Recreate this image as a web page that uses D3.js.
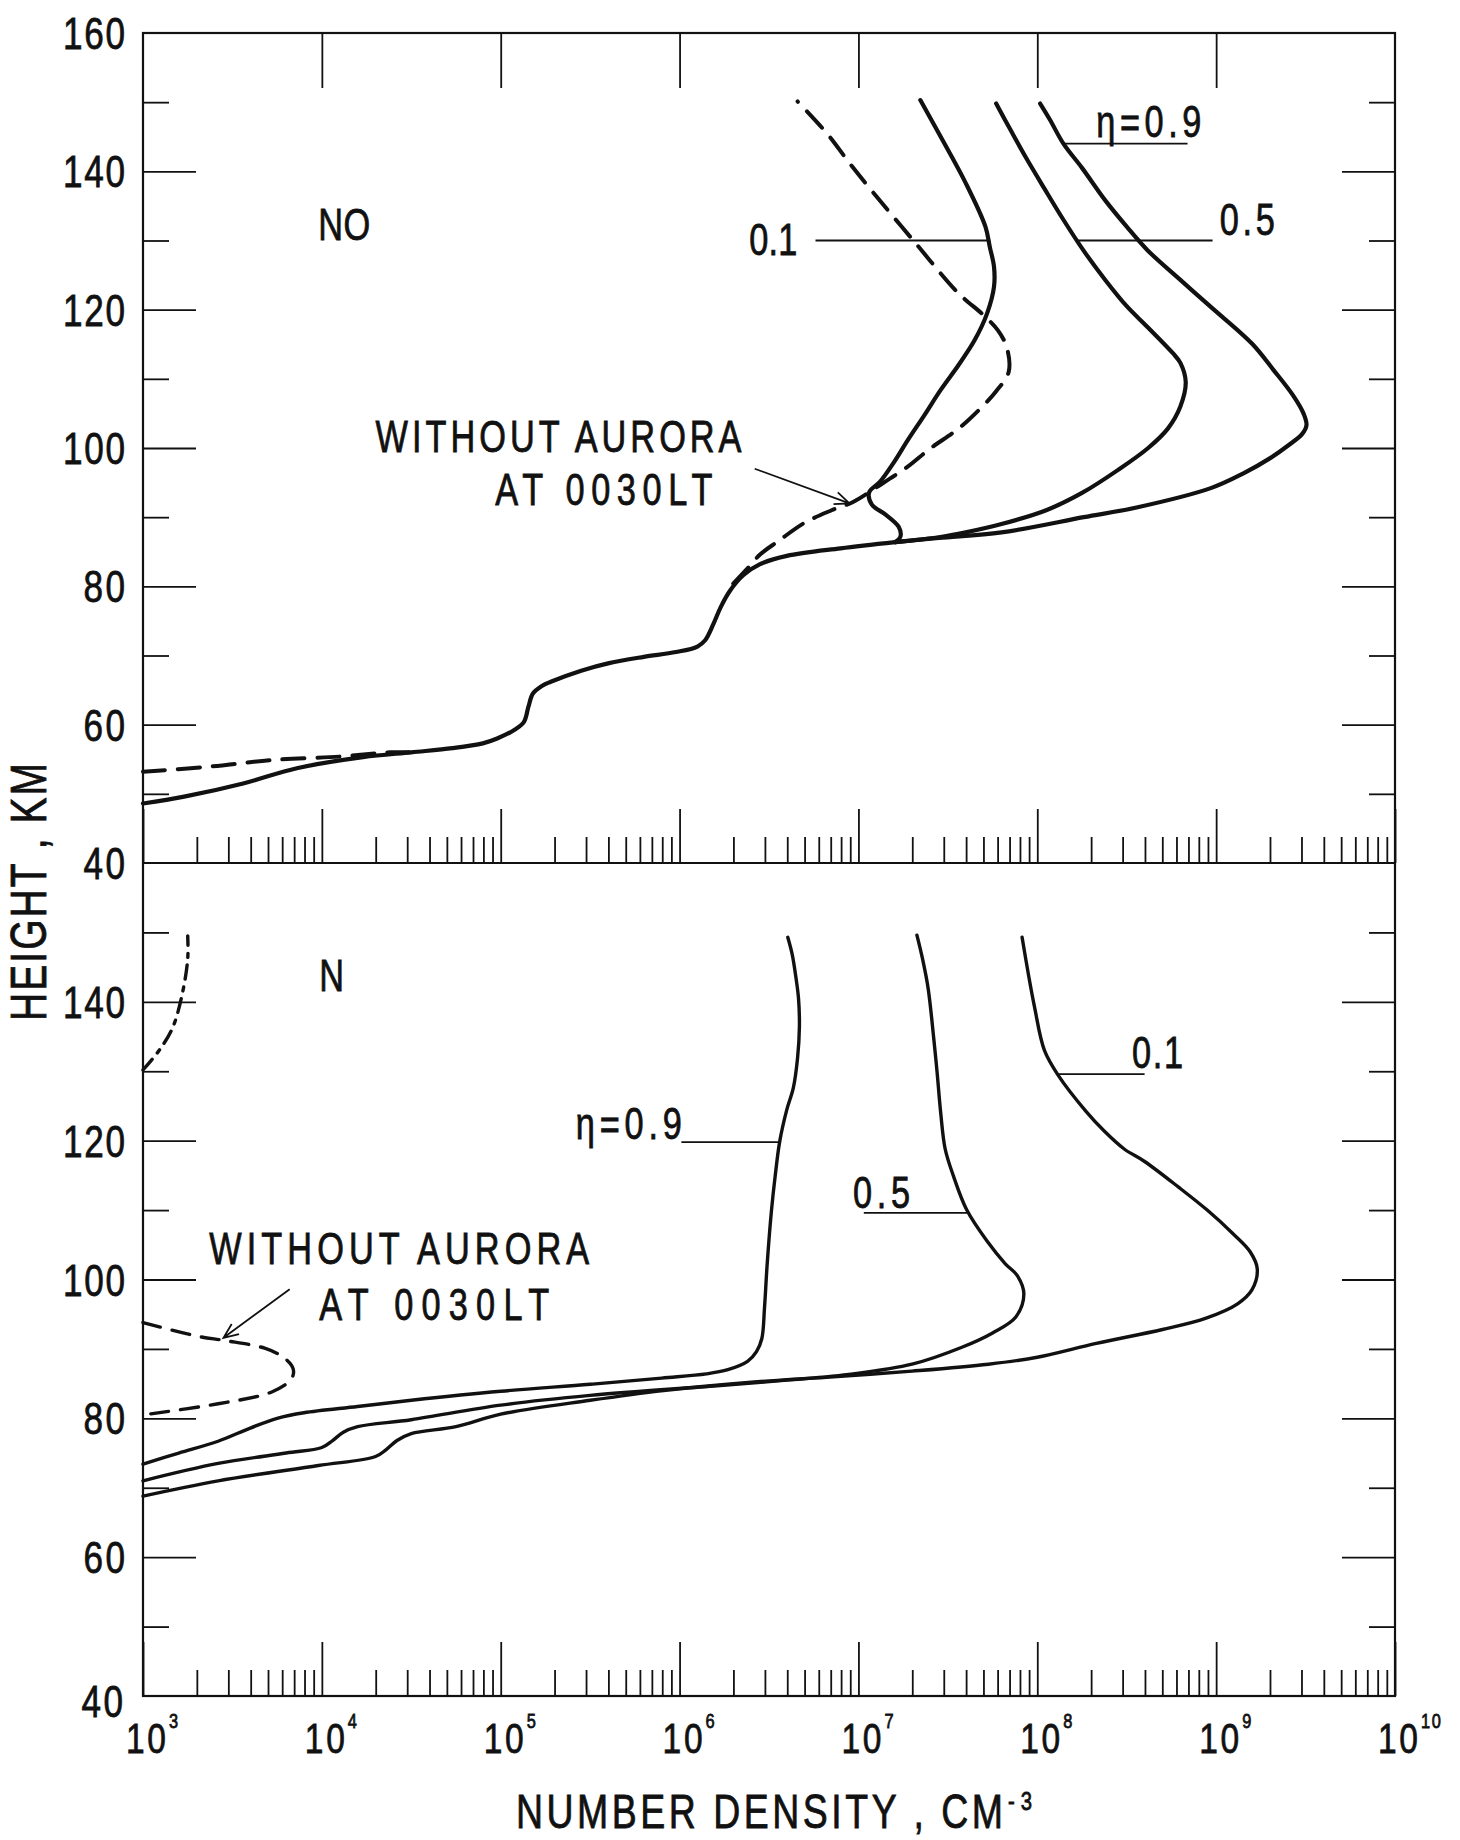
<!DOCTYPE html>
<html lang="en">
<head>
<meta charset="UTF-8">
<title>NO and N number density vs height</title>
<script src="https://cdn.jsdelivr.net/npm/d3@7"></script>
<style>
  body { margin: 0; background: #fff; }
  svg text { font-family: "Liberation Sans", Arial, sans-serif; fill: #111; stroke: #111; stroke-width: 0.8; }
  .tick line { stroke: #111; stroke-width: 1.8; }
</style>
</head>
<body>
<svg id="chart" width="1460" height="1840"></svg>
<script>
// ---- data: [log10 density (cm^-3), height (km)] ----
const decades = [3, 4, 5, 6, 7, 8, 9, 10];
const topHeightLabels = [160, 140, 120, 100, 80, 60, 40];
const botHeightLabels = [140, 120, 100, 80, 60, 40];
const majorHeights = [60, 80, 100, 120, 140];
const minorHeights = [50, 70, 90, 110, 130, 150];

// NO panel: part shared by all three eta curves
const noBase = [[3.0,48.6],[3.23,49.6],[3.56,51.5],[3.86,53.7],[4.23,55.3],[4.5,56.0],[4.73,56.6],[4.9,57.3],[4.98,58.0],[5.08,59.3],[5.13,60.4],[5.155,62.6],[5.18,64.5],[5.23,65.6],[5.28,66.2],[5.45,67.8],[5.606,68.9],[5.8,69.8],[5.98,70.5],[6.1,71.3],[6.143,72.2],[6.19,74.6],[6.23,77.0],[6.28,79.3],[6.356,81.6],[6.45,83.2],[6.6,84.4],[6.9,85.5],[7.206,86.4]];
const noEta01 = [[7.206,86.4],[7.235,87.2],[7.225,88.6],[7.15,90.4],[7.075,91.8],[7.06,93.6],[7.12,95.1],[7.2,98.0],[7.275,101.1],[7.37,104.8],[7.46,108.4],[7.56,112.0],[7.65,115.6],[7.72,119.5],[7.758,123.3],[7.758,126.2],[7.735,129.0],[7.71,132.0],[7.6,138.3],[7.46,145.0],[7.346,150.3]];
const noEta05 = [[7.206,86.4],[7.45,87.1],[7.6,87.8],[7.8,89.0],[8.05,91.0],[8.25,93.5],[8.45,96.8],[8.62,100.0],[8.73,102.8],[8.8,106.0],[8.83,109.5],[8.8,112.3],[8.758,113.7],[8.616,117.5],[8.5,120.5],[8.38,124.3],[8.26,128.5],[8.146,133.0],[8.04,137.5],[7.934,142.1],[7.85,146.0],[7.77,149.8]];
const noEta09 = [[7.206,86.4],[7.45,87.0],[7.8,87.8],[8.26,90.0],[8.555,91.4],[8.97,94.2],[9.15,96.3],[9.3,98.5],[9.41,100.5],[9.48,102.0],[9.505,103.3],[9.49,104.9],[9.43,107.6],[9.32,111.3],[9.2,115.1],[8.97,120.4],[8.8,124.3],[8.616,128.6],[8.5,132.0],[8.38,135.8],[8.25,140.5],[8.146,144.0],[8.07,147.5],[8.016,149.8]];
// NO without aurora at 0030 LT (dashed); the middle part lies under the solid curve
const noNightLow = [[3.0,53.2],[3.36,53.9],[3.73,54.9],[4.11,55.4],[4.38,56.0],[4.5,56.0]];
const noNightHigh = [[6.3,80.4],[6.38,82.6],[6.45,84.6],[6.55,86.5],[6.7,89.2],[6.85,91.0],[6.97,92.2],[7.1,94.3],[7.27,97.2],[7.4,99.9],[7.56,102.8],[7.67,105.4],[7.77,108.2],[7.84,111.0],[7.83,114.5],[7.78,117.0],[7.7,119.2],[7.558,122.4],[7.32,129.6],[7.087,136.8],[6.95,141.2],[6.83,145.3],[6.66,150.1]];

// N panel
const nEta09 = [[3.0,73.4],[3.2,75.0],[3.42,76.7],[3.6,78.6],[3.75,80.0],[3.9,80.8],[4.2,81.7],[4.5,82.6],[5.0,83.9],[5.5,84.9],[5.9,85.8],[6.15,86.4],[6.27,87.0],[6.38,88.2],[6.43,89.6],[6.46,91.5],[6.475,96.0],[6.49,102.3],[6.514,110.0],[6.535,115.0],[6.56,119.9],[6.6,124.5],[6.636,127.6],[6.66,132.0],[6.67,136.4],[6.665,140.5],[6.65,143.6],[6.63,146.8],[6.605,149.3]];
const nEta05 = [[3.0,71.0],[3.42,73.5],[3.8,75.0],[4.0,75.8],[4.06,76.8],[4.12,78.0],[4.2,78.8],[4.5,79.8],[5.0,81.9],[5.5,83.3],[6.21,84.7],[6.6,85.5],[6.97,86.4],[7.3,87.8],[7.575,90.2],[7.75,92.3],[7.88,94.6],[7.925,97.9],[7.89,100.5],[7.82,102.3],[7.72,105.5],[7.606,110.0],[7.53,115.0],[7.485,118.8],[7.46,124.0],[7.44,129.8],[7.42,135.0],[7.39,141.9],[7.36,146.0],[7.327,149.6]];
const nEta01 = [[3.0,68.8],[3.42,71.0],[3.98,73.2],[4.3,74.5],[4.36,75.5],[4.42,76.8],[4.5,77.8],[4.75,78.8],[5.0,80.6],[5.5,82.6],[5.91,84.0],[6.4,85.2],[6.82,85.9],[7.3,86.8],[7.727,87.8],[8.0,88.8],[8.33,90.8],[8.7,92.8],[8.94,94.4],[9.12,96.5],[9.2,98.5],[9.23,101.5],[9.19,104.0],[9.09,106.7],[8.95,110.0],[8.79,113.3],[8.6,117.0],[8.486,118.8],[8.37,121.5],[8.27,124.3],[8.12,129.3],[8.04,133.0],[7.985,139.2],[7.95,144.0],[7.915,149.3]];
const nNight = [[3.0,93.8],[3.31,91.8],[3.46,91.2],[3.68,90.1],[3.79,88.7],[3.84,87.1],[3.83,85.7],[3.72,83.8],[3.42,82.1],[3.0,80.5]];
const nDashDot = [[3.0,130.2],[3.09,133.0],[3.166,136.3],[3.22,141.2],[3.25,146.2],[3.25,149.5]];

// ---- layout ----
const svg = d3.select("#chart");
const plotL = 143, plotR = 1395, plotT = 33, plotMid = 863, plotB = 1696;
const squeeze = 0.78; // the lettering of the original is a narrow face

const x = d3.scaleLog().domain([1e3, 1e10]).range([plotL, plotR]);
const yTop = d3.scaleLinear().domain([40, 160]).range([plotMid, plotT]);
const yBot = d3.scaleLinear().domain([40, 160]).range([plotB, plotMid]);

const majorX = decades.map(d => 10 ** d);
const innerMajorX = majorX.slice(1, -1);
const minorX = [];
decades.slice(0, -1).forEach(d => {
    for (let k = 2; k <= 9; k++) minorX.push(k * 10 ** d);
});

// narrow text: squeeze glyphs horizontally, then stretch spacing to the wanted width
function narrow(parent, px, py, txt, size, width, anchor = "start", rot = 0) {
    const g = parent.append("g")
        .attr("transform", `translate(${px},${py}) rotate(${rot}) scale(${squeeze},1)`);
    const t = g.append("text").attr("font-size", size).attr("text-anchor", anchor).text(txt);
    if (width) t.attr("textLength", width / squeeze).attr("lengthAdjust", "spacing");
    return t;
}

// frame
const frame = svg.append("g").attr("stroke", "#111").attr("stroke-width", 2.2).attr("fill", "none");
frame.append("rect").attr("x", plotL).attr("y", plotT).attr("width", plotR - plotL).attr("height", plotB - plotT);
frame.append("line").attr("x1", plotL).attr("x2", plotR).attr("y1", plotMid).attr("y2", plotMid);

function ticksOnly(axis, g) {
    g.call(axis.tickFormat(""));
    g.select(".domain").remove();
}

// x ticks pointing up at the bottom of each panel
[plotMid, plotB].forEach(yPos => {
    ticksOnly(d3.axisTop(x).tickValues(majorX).tickSizeInner(54).tickSizeOuter(0),
        svg.append("g").attr("transform", `translate(0,${yPos})`));
    ticksOnly(d3.axisTop(x).tickValues(minorX).tickSizeInner(26).tickSizeOuter(0),
        svg.append("g").attr("transform", `translate(0,${yPos})`));
});
// decade ticks hanging from the top edge
ticksOnly(d3.axisBottom(x).tickValues(innerMajorX).tickSizeInner(55).tickSizeOuter(0),
    svg.append("g").attr("transform", `translate(0,${plotT})`));

// y ticks on both sides of both panels
[yTop, yBot].forEach(ys => {
    ticksOnly(d3.axisRight(ys).tickValues(majorHeights).tickSizeInner(53).tickSizeOuter(0),
        svg.append("g").attr("transform", `translate(${plotL},0)`));
    ticksOnly(d3.axisRight(ys).tickValues(minorHeights).tickSizeInner(26).tickSizeOuter(0),
        svg.append("g").attr("transform", `translate(${plotL},0)`));
    ticksOnly(d3.axisLeft(ys).tickValues(majorHeights).tickSizeInner(53).tickSizeOuter(0),
        svg.append("g").attr("transform", `translate(${plotR},0)`));
    ticksOnly(d3.axisLeft(ys).tickValues(minorHeights).tickSizeInner(26).tickSizeOuter(0),
        svg.append("g").attr("transform", `translate(${plotR},0)`));
});

// y tick labels
const labels = svg.append("g");
topHeightLabels.forEach(h => {
    narrow(labels, 125, yTop(h) + 16, h, 45, String(h).length * 20.7, "end");
});
botHeightLabels.forEach(h => {
    const low = h === 40;
    narrow(labels, low ? 123 : 125, yBot(h) + (low ? 21 : 16), h, 45, String(h).length * 20.7, "end");
});

// x tick labels 10^n
decades.forEach(d => {
    const cx = x(10 ** d) + 3;
    narrow(labels, cx, plotB + 57, "10", 43, 40, "middle");
    narrow(labels, cx + 23, plotB + 32, d, 21, String(d).length * 10).attr("stroke-width", 0.4);
});

// axis titles
narrow(labels, 46, 892, "HEIGHT , KM", 50, 258, "middle", -90);
narrow(labels, 516, 1828, "NUMBER DENSITY , CM", 48, 487);
narrow(labels, 1008, 1810, "-3", 26, 24).attr("stroke-width", 0.4);

// ---- curves ----
function lineFor(ys) {
    return d3.line().x(d => x(10 ** d[0])).y(d => ys(d[1])).curve(d3.curveCatmullRom.alpha(0.5));
}
const lTop = lineFor(yTop), lBot = lineFor(yBot);

const curves = svg.append("g").attr("fill", "none").attr("stroke", "#111")
    .attr("stroke-linejoin", "round").attr("stroke-linecap", "round");

curves.selectAll(".noNight").data([noNightLow, noNightHigh]).join("path")
    .attr("d", lTop).attr("stroke-width", 4).attr("stroke-dasharray", "22,13");
curves.selectAll(".noSolid").data([noBase, noEta01, noEta05, noEta09]).join("path")
    .attr("d", lTop).attr("stroke-width", 4.2);

curves.append("path").datum(nNight).attr("d", lBot)
    .attr("stroke-width", 3.4).attr("stroke-dasharray", "18,12");
curves.append("path").datum(nDashDot).attr("d", lBot)
    .attr("stroke-width", 3.4).attr("stroke-dasharray", "14,8,4,8");
curves.selectAll(".nSolid").data([nEta09, nEta05, nEta01]).join("path")
    .attr("d", lBot).attr("stroke-width", 3.4);

// ---- labels with leader lines ----
const ann = svg.append("g");
function leader(ys, l0, l1, h) {
    ann.append("line")
        .attr("x1", x(10 ** l0)).attr("x2", x(10 ** l1))
        .attr("y1", ys(h)).attr("y2", ys(h))
        .attr("stroke", "#111").attr("stroke-width", 1.8);
}
function label(ys, l, h, txt, width) {
    return narrow(ann, x(10 ** l), ys(h), txt, 44, width);
}
function arrow(ys, l0, h0, l1, h1) {
    const x0 = x(10 ** l0), y0 = ys(h0), x1 = x(10 ** l1), y1 = ys(h1);
    const a = Math.atan2(y1 - y0, x1 - x0);
    ann.append("path")
        .attr("d", `M${x0},${y0}L${x1},${y1}M${x1 - 16 * Math.cos(a - 0.4)},${y1 - 16 * Math.sin(a - 0.4)}L${x1},${y1}L${x1 - 16 * Math.cos(a + 0.4)},${y1 - 16 * Math.sin(a + 0.4)}`)
        .attr("fill", "none").attr("stroke", "#111").attr("stroke-width", 1.8);
}

// NO panel
label(yTop, 3.98, 130.1, "NO", 52);
label(yTop, 6.39, 127.9, "0.1", 48);
leader(yTop, 6.76, 7.73, 130);
label(yTop, 9.02, 130.8, "0.5", 55);
leader(yTop, 8.22, 8.98, 130);
label(yTop, 8.33, 145.0, "\u03B7=0.9", 105);
leader(yTop, 8.14, 8.84, 144);
label(yTop, 4.3, 99.4, "WITHOUT AURORA", 366);
label(yTop, 4.97, 91.7, "AT 0030LT", 217);
arrow(yTop, 6.42, 97.0, 6.95, 92.0);

// N panel
label(yBot, 3.985, 141.5, "N", 21);
label(yBot, 5.42, 120.3, "\u03B7=0.9", 106);
leader(yBot, 6.01, 6.555, 119.8);
label(yBot, 6.97, 110.3, "0.5", 57);
leader(yBot, 7.03, 7.61, 109.6);
label(yBot, 8.53, 130.4, "0.1", 51);
leader(yBot, 8.11, 8.6, 129.6);
label(yBot, 3.37, 102.2, "WITHOUT AURORA", 380);
label(yBot, 3.985, 94.2, "AT 0030LT", 230);
arrow(yBot, 3.82, 98.6, 3.45, 91.6);
</script>
</body>
</html>
